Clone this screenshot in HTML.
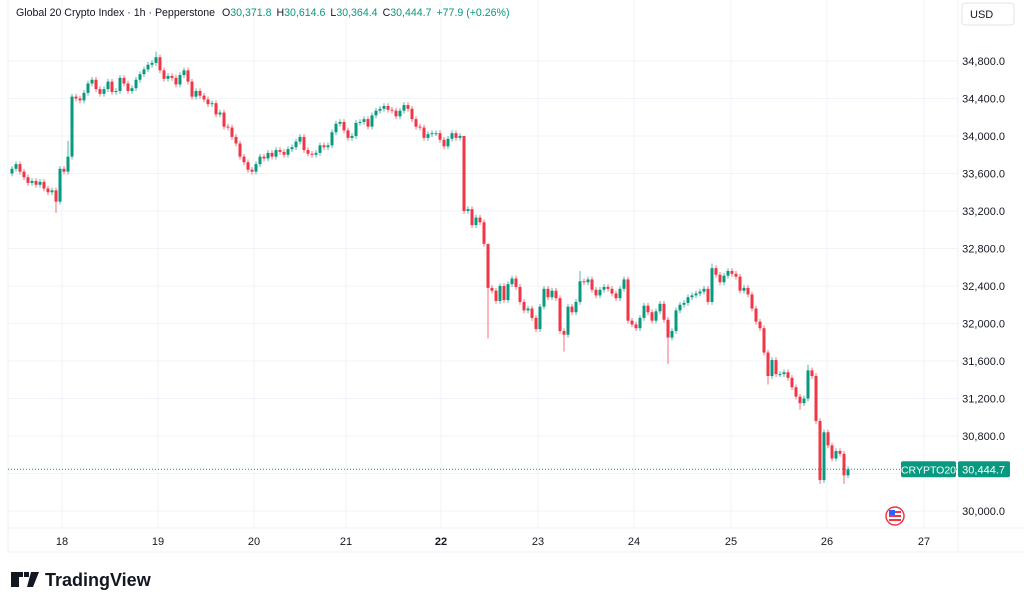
<!DOCTYPE html>
<html><head><meta charset="utf-8">
<style>
body{margin:0;background:#fff;width:1024px;height:606px;overflow:hidden;font-family:"Liberation Sans",sans-serif;}
svg text{font-family:"Liberation Sans",sans-serif;}
</style></head>
<body>
<svg id="chart" width="1024" height="606" viewBox="0 0 1024 606" xmlns="http://www.w3.org/2000/svg">
<rect x="0" y="0" width="1024" height="606" fill="#fff"/>
<g id="grid"></g>
<line x1="8" y1="0" x2="8" y2="552" stroke="#eef0f5"/>
<line x1="958" y1="0" x2="958" y2="552" stroke="#eef0f5"/>
<line x1="8" y1="528" x2="1024" y2="528" stroke="#eef0f5"/>
<line x1="8" y1="552" x2="1024" y2="552" stroke="#eef0f5"/>
<g id="candles"></g>
<g id="yaxis"></g>
<g id="xaxis"></g>
<text x="16" y="16" font-size="10.6" fill="#131722">Global 20 Crypto Index · 1h · Pepperstone <tspan dx="4">O</tspan><tspan fill="#089981">30,371.8</tspan><tspan dx="5">H</tspan><tspan fill="#089981">30,614.6</tspan><tspan dx="5">L</tspan><tspan fill="#089981">30,364.4</tspan><tspan dx="5">C</tspan><tspan fill="#089981">30,444.7</tspan><tspan dx="5" fill="#089981">+77.9 (+0.26%)</tspan></text>
<rect x="962" y="3" width="52" height="22" rx="3" fill="#fff" stroke="#e0e3eb"/>
<text x="970" y="18" font-size="11" fill="#131722">USD</text>
<g>
<circle cx="895" cy="516" r="9" fill="#fff" stroke="#f23645" stroke-width="1.5"/>
<rect x="889" y="511" width="12" height="2" fill="#f23645"/><rect x="889" y="515" width="12" height="2" fill="#f23645"/><rect x="889" y="519" width="12" height="2" fill="#f23645"/>
<rect x="889" y="510" width="6" height="5" fill="#2962ff"/>
</g>
<g>
<path d="M11 572h12v5h-4v10h-8z M24 572h5v5h-5z M31 572h8l-6 15h-6z" fill="#131722"/>
<text x="45" y="586" font-size="18" font-weight="bold" fill="#131722">TradingView</text>
</g>
</svg>
<script>
const closes=[33650,33700,33620,33560,33500,33520,33480,33510,33440,33400,33420,33300,33650,33620,33780,34420,34400,34380,34460,34560,
34600,34500,34450,34500,34580,34470,34480,34620,34560,34480,34510,34600,34660,34710,34760,34780,34840,34700,34610,34640,
34620,34550,34650,34700,34580,34420,34480,34430,34390,34340,34350,34230,34250,34100,34090,33990,33920,33780,33720,33640,
33620,33700,33780,33760,33820,33780,33850,33830,33800,33860,33880,33940,33990,33850,33810,33800,33820,33900,33880,33900,
34040,34130,34150,34060,33980,34000,34140,34150,34180,34100,34220,34270,34290,34320,34280,34270,34210,34270,34330,34290,
34180,34100,34090,33980,34020,34030,34030,33960,33890,33970,34030,33980,34000,33200,33220,33050,33130,33080,32850,32380,
32350,32240,32400,32250,32420,32480,32390,32230,32140,32160,32060,31940,32180,32370,32280,32350,32270,31920,31880,32180,
32120,32230,32450,32440,32470,32360,32300,32360,32390,32370,32320,32270,32370,32470,32030,31990,31950,32060,32190,32120,
32030,32130,32210,32040,31850,31920,32140,32200,32220,32280,32300,32320,32340,32370,32230,32590,32520,32440,32510,32560,
32530,32500,32350,32380,32310,32160,32020,31950,31690,31440,31610,31460,31460,31480,31420,31320,31220,31150,31200,31500,
31440,30960,30330,30840,30700,30560,30640,30610,30380,30444.7];
const firstOpen=33600;
const longHighs={36:34900,14:33950,113:33900,119:32700,142:32560,175:32640,199:31560};
const longLows={11:33180,119:31840,138:31700,164:31570,189:31350,197:31080,202:30290,208:30290};
const priceTicks=[34800,34400,34000,33600,33200,32800,32400,32000,31600,31200,30800,30000];
const dayLabels=["18","19","20","21","22","23","24","25","26","27"];
const dayIndex=[12.5,36.5,60.5,83.5,107.25,131.5,155.5,179.75,203.75,228];
const lastPrice=30444.7;

const NS="http://www.w3.org/2000/svg";
const yS=p=>511-(p-30000)*0.09375;
const xS=i=>12+4*i;
function mk(tag,attrs,parent){const e=document.createElementNS(NS,tag);for(const k in attrs)e.setAttribute(k,attrs[k]);parent.appendChild(e);return e;}
const grid=document.getElementById('grid'),cg=document.getElementById('candles'),ya=document.getElementById('yaxis'),xa=document.getElementById('xaxis');
[...priceTicks,30400].forEach(p=>{const l=mk('line',{x1:8,x2:958,y1:yS(p),y2:yS(p),stroke:'#f0f3fa'},grid);

});
dayIndex.forEach(d=>{const l=mk('line',{x1:xS(d),x2:xS(d),y1:0,y2:528,stroke:'#f0f3fa'},grid);

});
priceTicks.forEach(p=>{const t=mk('text',{x:1005,y:yS(p)+4,'font-size':11,fill:'#131722','text-anchor':'end'},ya);
t.textContent=p.toLocaleString('en-US')+'.0';

});
dayLabels.forEach((d,i)=>{const t=mk('text',{x:xS(dayIndex[i]),y:545,'font-size':11,fill:'#131722','text-anchor':'middle','font-weight':d==='22'?'bold':'normal'},xa);
t.textContent=d;

});
let prev=firstOpen;
closes.forEach((c,i)=>{const o=prev;prev=c;const up=c>=o;const col=up?'#089981':'#f23645';
const hi=longHighs[i]!==undefined?longHighs[i]:Math.max(o,c)+30;
const lo=longLows[i]!==undefined?longLows[i]:Math.min(o,c)-30;
const x=xS(i);
const w=mk('line',{x1:x,x2:x,y1:yS(hi),y2:yS(lo),stroke:col,'stroke-width':1,opacity:0.7},cg);


const top=yS(Math.max(o,c)),bot=yS(Math.min(o,c));
const b=mk('rect',{x:x-1.5,y:top,width:3,height:Math.max(1,bot-top),fill:col},cg);

});
const ly=yS(lastPrice);
const pl=mk('line',{x1:8,x2:958,y1:ly,y2:ly,stroke:'#089981','stroke-dasharray':'1 2'},cg);


const r1=mk('rect',{x:901,y:ly-8,width:55,height:16,rx:2,fill:'#089981'},ya);


const t1=mk('text',{x:928.5,y:ly+4,'font-size':10.5,fill:'#fff','text-anchor':'middle'},ya);t1.textContent='CRYPTO20';


const r2=mk('rect',{x:958,y:ly-8,width:52,height:16,rx:2,fill:'#089981'},ya);


const t2=mk('text',{x:1005,y:ly+4,'font-size':11,fill:'#fff','text-anchor':'end'},ya);t2.textContent=lastPrice.toLocaleString('en-US',{minimumFractionDigits:1});


</script>
</body></html>
